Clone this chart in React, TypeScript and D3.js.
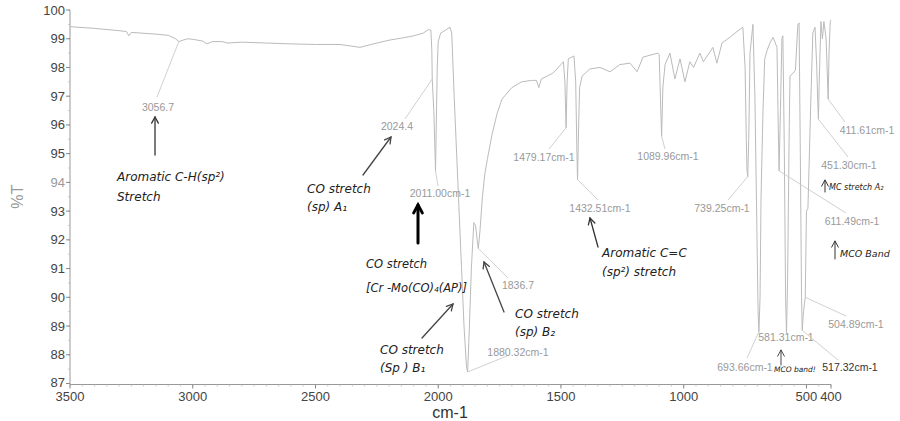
import React from "react";
import * as d3 from "d3";

// ---- data ----
const wavenumbers = [
  3500, 3400, 3300, 3270, 3260, 3250, 3150, 3100, 3070, 3056.7, 3040, 3020, 3000, 2960, 2942, 2920,
  2880, 2860, 2800, 2700, 2600, 2500, 2400, 2319, 2250, 2200, 2150, 2100, 2060, 2040, 2030, 2026,
  2024.4, 2018, 2013, 2011, 2008, 2004, 2000, 1990, 1970, 1952, 1945, 1935, 1920, 1905, 1895, 1885,
  1880.32, 1875, 1865, 1855, 1848, 1840, 1836.7, 1830, 1820, 1810, 1800, 1780, 1760, 1740, 1700, 1660,
  1620, 1600, 1590, 1580, 1533, 1500, 1490, 1484, 1479.17, 1475, 1470, 1447, 1440, 1435, 1432.51, 1428,
  1424, 1414, 1382, 1341, 1300, 1260, 1219, 1190, 1166, 1105, 1100, 1095, 1089.96, 1085, 1076, 1056,
  1036, 1015, 995, 975, 960, 934, 920, 881, 865, 844, 812, 783, 759, 750, 745, 742,
  739.25, 735, 730, 718, 710, 703, 697, 693.66, 689, 685, 677, 670, 660, 649, 636, 620,
  616, 611.49, 606, 600, 596, 590, 585, 581.31, 577, 570, 567, 555, 545, 535, 530, 525,
  520, 517.32, 512, 508, 504.89, 500, 494, 482, 474, 465, 458, 454, 451.3, 448, 441, 435,
  429, 420, 414, 411.61, 408, 403, 400,
];
const transmittance = [
  99.42, 99.36, 99.28, 99.25, 99.1, 99.22, 99.16, 99.12, 99.0, 98.9, 98.95, 99.0, 98.98, 98.92, 98.82, 98.9,
  98.9, 98.85, 98.88, 98.85, 98.82, 98.8, 98.8, 98.7, 98.85, 98.95, 99.02, 99.1, 99.2, 99.32, 99.3, 98.6,
  97.6, 96.5, 95.0, 94.4, 96.0, 98.0, 98.9, 99.2, 99.3, 99.4, 99.2, 97.0, 94.0, 91.0, 89.0, 87.6,
  87.4, 88.5, 91.0, 92.6, 92.5, 91.9, 91.7, 92.3, 93.5, 94.3, 94.8, 95.7, 96.4, 96.9, 97.3, 97.5,
  97.55, 97.55, 97.3, 97.6, 97.8, 98.1, 98.2, 97.5, 95.9, 97.5, 98.3, 98.4, 97.5, 95.0, 94.1, 96.0,
  97.3, 97.7, 97.95, 98.0, 97.85, 98.1, 98.15, 97.85, 98.36, 98.5, 98.45, 97.0, 95.6, 97.3, 98.1, 98.5,
  97.6, 98.3, 97.5, 98.2, 98.0, 98.5, 98.2, 98.7, 98.15, 98.85, 99.05, 99.25, 99.4, 98.0, 95.5, 94.4,
  94.2, 95.5, 98.5, 99.5, 97.0, 93.0, 89.5, 88.8, 90.0, 93.5, 96.5, 98.3, 98.6, 98.85, 99.05, 98.7,
  96.5, 94.4, 96.5, 99.0, 99.1, 95.0, 90.0, 88.75, 90.5, 96.0, 97.7, 97.8, 97.9, 99.5, 99.55, 95.0,
  90.0, 88.85, 89.5, 89.8, 90.0, 93.0, 93.1, 96.9, 99.2, 99.4, 98.0, 96.8, 96.2, 97.5, 99.6, 99.0,
  99.6, 99.0, 97.5, 96.9, 98.5, 99.6, 99.65,
];

const yTicks = [100, 99, 98, 97, 96, 95, 94, 93, 92, 91, 90, 89, 88, 87];
const xTicks = [3500, 3000, 2500, 2000, 1500, 1000, 500, 400];

// peak labels: wavenumber, %T, text
const peakWn = [3056.7, 2024.4, 2011.0, 1880.32, 1836.7, 1479.17, 1432.51, 1089.96, 739.25, 693.66, 581.31, 517.32, 504.89, 611.49, 451.3, 411.61];
const peakT = [98.9, 97.6, 94.4, 87.4, 91.7, 95.9, 94.1, 95.6, 94.2, 88.8, 88.75, 88.85, 90.0, 94.4, 96.2, 96.9];
const peakText = [
  "3056.7", "2024.4", "2011.00cm-1", "1880.32cm-1", "1836.7", "1479.17cm-1", "1432.51cm-1", "1089.96cm-1",
  "739.25cm-1", "693.66cm-1", "581.31cm-1", "517.32cm-1", "504.89cm-1", "611.49cm-1", "451.30cm-1", "411.61cm-1",
];

// ---- layout (pixels) ----
const W = 900;
const H = 421;
const M = { left: 70, right: 831, top: 10, bottom: 383.5 };

// label centre + leader end for each peak label
const peakLayout: [number, number, number | null, number | null][] = [
  [158, 107, 157, 97],
  [397, 126, 405, 119],
  [440, 193, 438, 186],
  [518, 352, 507, 356],
  [518, 285, 508, 278],
  [544, 157, 549, 149],
  [600, 208, 598, 200],
  [668, 156, 665, 149],
  [722, 208, 728, 200],
  [745, 367, 747, 358],
  [786, 337, null, null],
  [850, 367, 838, 360],
  [856, 324, 846, 316],
  [852, 221, 846, 213],
  [849, 165, 848, 157],
  [867, 130, 845, 122],
];

type Note = { lines: string[]; x: number; y: number; size: number; lh: number };
const notes: Note[] = [
  { lines: ["Aromatic  C-H(sp\u00B2)", "Stretch"], x: 117, y: 181, size: 12, lh: 20 },
  { lines: ["CO stretch", "(sp) A\u2081"], x: 307, y: 193, size: 12, lh: 18 },
  { lines: ["CO stretch", "[Cr -Mo(CO)\u2084(AP)]"], x: 366, y: 268, size: 11.5, lh: 24 },
  { lines: ["CO stretch", "(Sp ) B\u2081"], x: 380, y: 354, size: 12, lh: 18 },
  { lines: ["CO stretch", "(sp) B\u2082"], x: 515, y: 318, size: 12, lh: 18 },
  { lines: ["Aromatic C=C", "(sp\u00B2) stretch"], x: 602, y: 257, size: 12, lh: 19 },
  { lines: ["MC stretch A\u2082"], x: 829, y: 190, size: 8, lh: 10 },
  { lines: ["MCO Band"], x: 840, y: 257, size: 9.5, lh: 10 },
  { lines: ["MCO band!"], x: 774, y: 372, size: 7.5, lh: 10 },
];

// arrows: from (x1,y1) to head (x2,y2)
const arrows: [number, number, number, number, number, string][] = [
  [155, 155, 155, 117, 1.3, "#333"],
  [363, 175, 391, 137, 1.3, "#444"],
  [418, 243, 418, 205, 3, "#000"],
  [422, 338, 453, 304, 1.3, "#444"],
  [504, 312, 484, 262, 1.3, "#444"],
  [598, 247, 590, 218, 1.3, "#333"],
  [825, 192, 825, 180, 1, "#333"],
  [835, 259, 835, 241, 1, "#333"],
  [781, 365, 781, 350, 0.9, "#333"],
];

export default function App() {
  const x = d3.scaleLinear().domain([3500, 400]).range([M.left, M.right]);
  const y = d3.scaleLinear().domain([87, 100]).range([M.bottom, M.top]);
  const pts: [number, number][] = wavenumbers.map((w, i) => [w, transmittance[i]]);
  const line = d3
    .line<[number, number]>()
    .x((d) => x(d[0]))
    .y((d) => y(d[1]));
  const path = line(pts) || "";

  const minor = d3.range(3500, 399, -50);
  const minorY = d3.range(87, 100.01, 0.5);

  const font = "'Liberation Sans', Arial, sans-serif";

  return (
    <svg
      width={W}
      height={H}
      style={{ position: "absolute", left: 0, top: 0, background: "#fff" }}
      fontFamily={font}
    >
      {/* axes */}
      <line x1={M.left} x2={M.left} y1={M.top} y2={M.bottom + 1} stroke="#999" strokeWidth={1} />
      <line x1={M.left} x2={M.right} y1={M.bottom + 1} y2={M.bottom + 1} stroke="#999" strokeWidth={1} />
      {minorY.map((v) => (
        <line key={"my" + v} x1={M.left - 2} x2={M.left} y1={y(v)} y2={y(v)} stroke="#bbb" strokeWidth={0.8} />
      ))}
      {minor.map((v) => (
        <line key={"mx" + v} x1={x(v)} x2={x(v)} y1={M.bottom + 1} y2={M.bottom + 3} stroke="#bbb" strokeWidth={0.8} />
      ))}
      {yTicks.map((t) => (
        <g key={"y" + t}>
          <line x1={M.left - 4} x2={M.left} y1={y(t)} y2={y(t)} stroke="#888" />
          <text x={M.left - 5} y={y(t) + (t === 87 ? 3 : 4.5)} textAnchor="end" fontSize={13} fill={t === 94 ? "#999" : "#444"}>
            {t}
          </text>
        </g>
      ))}
      {xTicks.map((t) => (
        <g key={"x" + t}>
          <line x1={x(t)} x2={x(t)} y1={M.bottom + 1} y2={M.bottom + 5} stroke="#888" />
          <text x={x(t)} y={M.bottom + 17.5} textAnchor="middle" fontSize={13} fill="#444">
            {t}
          </text>
        </g>
      ))}
      <text
        transform={`translate(23,${(M.top + M.bottom) / 2}) rotate(-90)`}
        textAnchor="middle"
        fontSize={16}
        fill="#999"
      >
        %T
      </text>
      <text x={450} y={418} textAnchor="middle" fontSize={16} fill="#333">
        cm-1
      </text>

      {/* spectrum */}
      <path d={path} fill="none" stroke="#bbb" strokeWidth={1} strokeLinejoin="round" />

      {/* peak labels + leaders */}
      {peakWn.map((w, i) => {
        const [lx, ly, ex, ey] = peakLayout[i];
        return (
          <g key={"p" + i}>
            {ex !== null && ey !== null && (
              <line x1={x(w)} y1={y(peakT[i])} x2={ex} y2={ey} stroke="#c4c4c4" strokeWidth={0.8} />
            )}
            <text
              x={lx}
              y={ly + 4}
              textAnchor="middle"
              fontSize={10.5}
              fill={peakText[i] === "517.32cm-1" ? "#333" : "#999"}
            >
              {peakText[i]}
            </text>
          </g>
        );
      })}

      {/* handwritten notes */}
      {notes.map((n, i) => (
        <text key={"n" + i} x={n.x} y={n.y} fontSize={n.size} fill="#222" fontFamily="'DejaVu Sans', sans-serif" fontStyle="italic">
          {n.lines.map((l, j) => (
            <tspan key={j} x={n.x} dy={j === 0 ? 0 : n.lh}>
              {l}
            </tspan>
          ))}
        </text>
      ))}

      {arrows.map(([x1, y1, x2, y2, sw, c], i) => {
        const ang = Math.atan2(y2 - y1, x2 - x1);
        const hl = sw > 2 ? 9 : 7;
        const a1 = ang + Math.PI - 0.5;
        const a2 = ang + Math.PI + 0.5;
        return (
          <g key={"a" + i} stroke={c} strokeWidth={sw} fill="none" strokeLinecap="round">
            <line x1={x1} y1={y1} x2={x2} y2={y2} />
            <polyline
              points={`${x2 + hl * Math.cos(a1)},${y2 + hl * Math.sin(a1)} ${x2},${y2} ${x2 + hl * Math.cos(a2)},${y2 + hl * Math.sin(a2)}`}
            />
          </g>
        );
      })}
    </svg>
  );
}
